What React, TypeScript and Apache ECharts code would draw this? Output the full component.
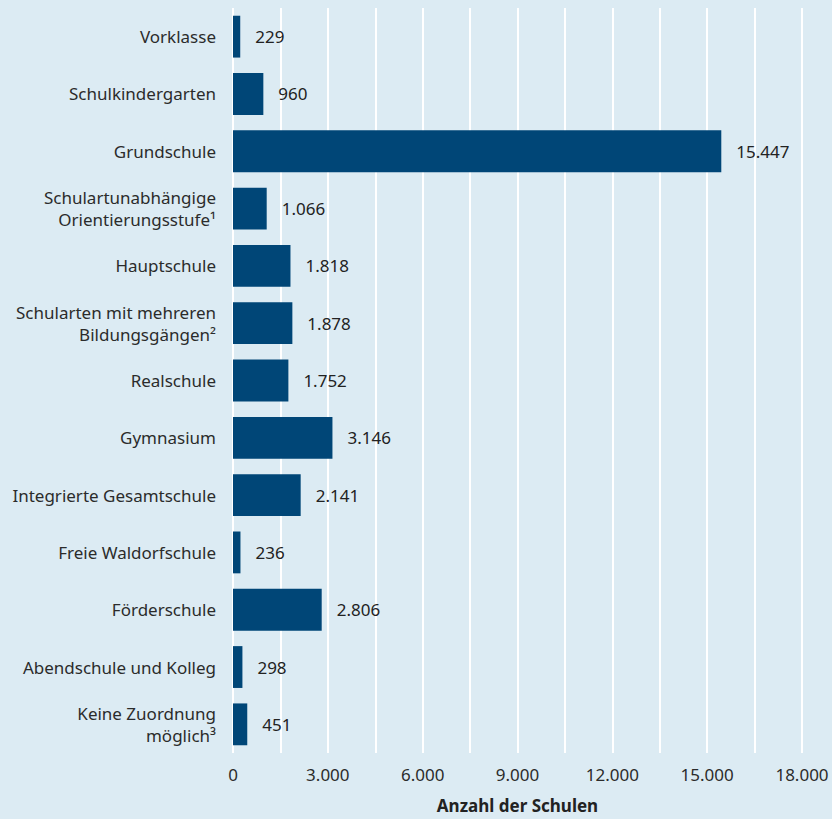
import React, { useEffect, useRef } from "react";
import * as echarts from "echarts";

const categories = [
  "Vorklasse",
  "Schulkindergarten",
  "Grundschule",
  "Schulartunabhängige\nOrientierungsstufe¹",
  "Hauptschule",
  "Schularten mit mehreren\nBildungsgängen²",
  "Realschule",
  "Gymnasium",
  "Integrierte Gesamtschule",
  "Freie Waldorfschule",
  "Förderschule",
  "Abendschule und Kolleg",
  "Keine Zuordnung\nmöglich³",
];
const values = [229, 960, 15447, 1066, 1818, 1878, 1752, 3146, 2141, 236, 2806, 298, 451];
const axisMin = 0;
const axisMax = 18000;
const gridStep = 1500;
const labelStep = 3000;
const axisTitle = "Anzahl der Schulen";

const fmt = (v: number) => String(Math.round(v)).replace(/\B(?=(\d{3})+(?!\d))/g, ".");

export default function App() {
  const ref = useRef<HTMLDivElement>(null);
  useEffect(() => {
    document.body.style.margin = "0";
    if (!ref.current) return;
    const chart = echarts.init(ref.current, null, { renderer: "svg" });
    const font = "'Noto Sans', sans-serif";
    chart.setOption({
      animation: false,
      backgroundColor: "#dcebf3",
      textStyle: { fontFamily: font },
      grid: { left: 233, right: 30, top: 8, bottom: 62 },
      xAxis: {
        type: "value",
        min: axisMin,
        max: axisMax,
        interval: gridStep,
        axisLine: { show: false },
        axisTick: { show: false },
        splitLine: { show: true, lineStyle: { color: "#ffffff", width: 2 } },
        axisLabel: {
          color: "#2b2b2b",
          fontSize: 17,
          fontFamily: font,
          margin: 13,
          formatter: (v: number) => (v % labelStep === 0 ? fmt(v) : ""),
        },
        name: axisTitle,
        nameLocation: "middle",
        nameGap: 44,
        nameTextStyle: { color: "#222", fontSize: 17, fontWeight: "bold", fontFamily: font },
      },
      yAxis: {
        type: "category",
        data: categories,
        inverse: true,
        axisLine: { show: false },
        axisTick: { show: false },
        axisLabel: { color: "#2b2b2b", fontSize: 17, fontFamily: font, margin: 17, lineHeight: 22, align: "right" },
      },
      series: [
        {
          type: "bar",
          data: values,
          barCategoryGap: "27%",
          itemStyle: { color: "#004677" },
          label: {
            show: true,
            position: "right",
            distance: 15,
            color: "#222",
            fontSize: 17,
            fontFamily: font,
            formatter: (p: any) => fmt(p.value),
          },
        },
      ],
    });
    return () => chart.dispose();
  }, []);
  return <div ref={ref} style={{ width: 832, height: 819 }} />;
}
